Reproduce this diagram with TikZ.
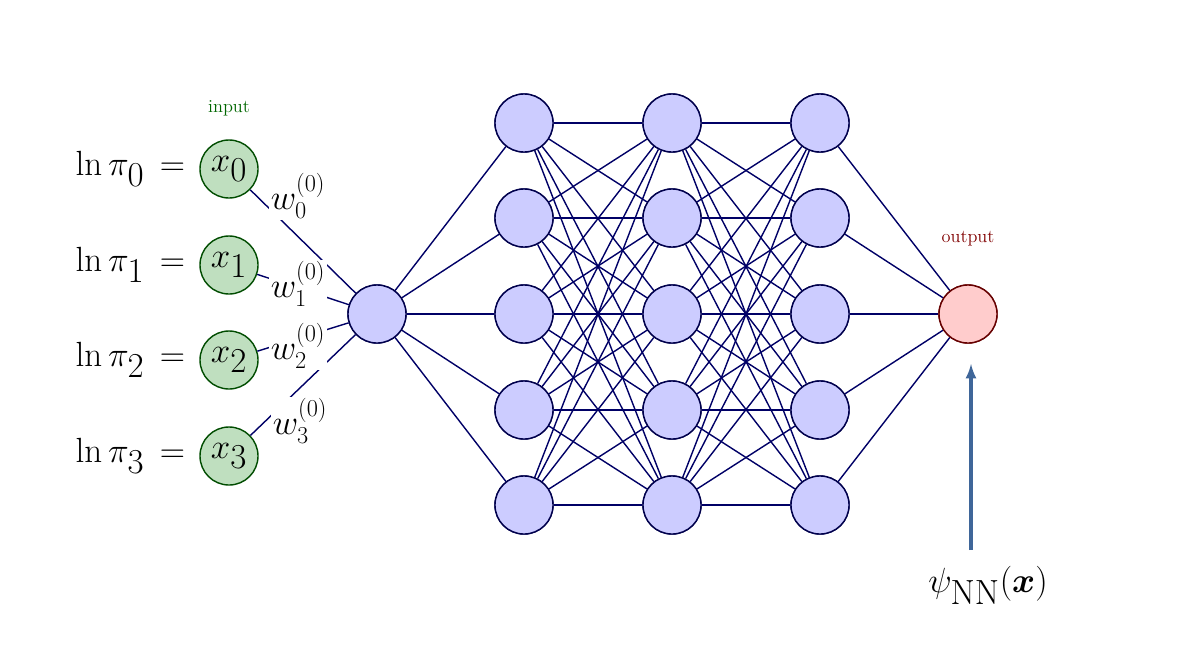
\documentclass[tikz,border=0pt]{standalone}
\usepackage{amsmath,bm}
\begin{document}
\begin{tikzpicture}[x=0.025cm,y=-0.025cm,
  neu/.style={circle,draw=blue!30!black,fill=blue!20,line width=1pt,minimum size=1.45cm,inner sep=0pt},
  inp/.style={circle,draw=green!30!black,fill=green!50!black!25,line width=1pt,minimum size=1.45cm,inner sep=0pt,font=\fontsize{34}{36}\selectfont},
  outn/.style={circle,draw=red!40!black,fill=red!20,line width=1pt,minimum size=1.45cm,inner sep=0pt},
  conn/.style={draw=blue!40!black,line width=1pt},
  wl/.style={fill=white,inner sep=1pt,font=\fontsize{24}{26}\selectfont},
  lab/.style={anchor=east,font=\fontsize{34}{36}\selectfont}]
\useasboundingbox (0,0) rectangle (1200,646);
\foreach \i/\y in {0/169,1/265,2/360,3/456}{
  \node[inp] (x\i) at (229,\y) {$x_{\i}$};
  \node[lab] (l\i) at (190,\y) {$\ln\pi_{\i}\,=$};
}
\node[font=\fontsize{13}{14}\selectfont,text=green!40!black] (inlab) at (229,108) {input};
\node[neu] (h) at (377,314) {};
\foreach \c/\x in {1/524,2/672,3/820}{
  \foreach \r/\y in {1/123,2/218,3/314,4/410,5/505}{
    \node[neu] (n\c\r) at (\x,\y) {};
  }
}
\node[outn] (o) at (968,314) {};
\node[font=\fontsize{13}{14}\selectfont,text=red!50!black] (outlab) at (968,239) {output};
\begin{scope}[on background layer/.try]
\end{scope}
% connections
\foreach \r in {1,...,5}{
  \draw[conn] (h) -- (n1\r);
  \draw[conn] (n3\r) -- (o);
  \foreach \s in {1,...,5}{
    \draw[conn] (n1\r) -- (n2\s);
    \draw[conn] (n2\r) -- (n3\s);
  }
}
\foreach \i in {0,...,3}{\draw[conn] (x\i) -- (h);}
% redraw nodes over lines
\foreach \c/\x in {1/524,2/672,3/820}{
  \foreach \r/\y in {1/123,2/218,3/314,4/410,5/505}{
    \node[neu] at (\x,\y) {};
  }
}
\node[neu] at (377,314) {};
\node[outn] at (968,314) {};
\node[wl] (w0) at (298,196) {$w_0^{(0)}$};
\node[wl] (w1) at (298,284) {$w_1^{(0)}$};
\node[wl] (w2) at (298,346) {$w_2^{(0)}$};
\node[wl] (w3) at (300,421) {$w_3^{(0)}$};
\node[font=\fontsize{36}{40}\selectfont] (psi) at (988,585) {$\psi_{\mathrm{NN}}(\bm{x})$};
\coordinate (ps) at (971,550);
\draw[-latex,line width=2.5pt,draw=cyan!50!blue!70!black] (ps) -- (971,364);
\end{tikzpicture}
\end{document}
